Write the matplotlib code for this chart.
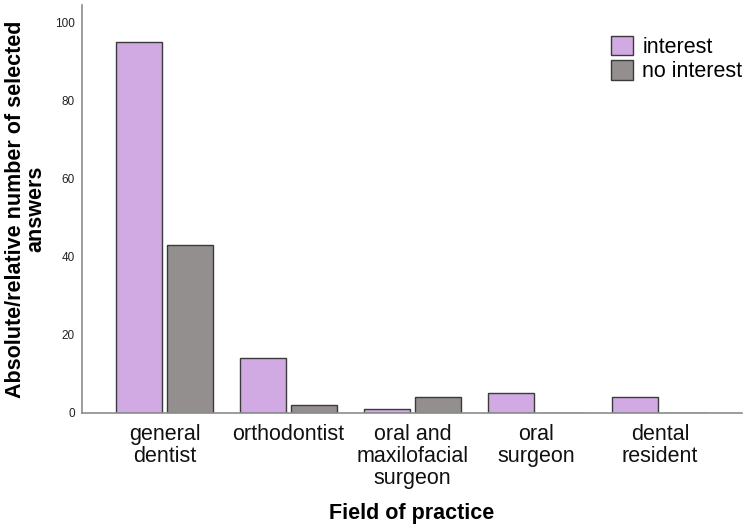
import matplotlib
matplotlib.use("Agg")
import matplotlib.pyplot as plt
import numpy as np

plt.rcParams['font.family'] = ['Liberation Sans', 'DejaVu Sans']

categories = ["general\ndentist", "orthodontist", "oral and\nmaxilofacial\nsurgeon", "oral\nsurgeon", "dental\nresident"]
interest = [95, 14, 1, 5, 4]
no_interest = [43, 2, 4, 0, 0]
series_names = ["interest", "no interest"]
colors = ["#D1AAE3", "#938F8E"]

fig = plt.figure(figsize=(7.44, 5.26), dpi=100)
ax = fig.add_axes([0.110, 0.215, 0.887, 0.775])

x = np.arange(len(categories))
w = 0.372
off = 0.206
ax.bar(x - off, interest, width=w, color=colors[0], edgecolor="#3a3a3a", linewidth=1.0, label=series_names[0])
ax.bar(x + off, no_interest, width=w, color=colors[1], edgecolor="#3a3a3a", linewidth=1.0, label=series_names[1])

ax.set_xlim(-0.67, 4.66)
ax.set_ylim(0, 104.3)
ax.set_yticks([0, 20, 40, 60, 80, 100])
ax.set_xticks(x)
ax.set_xticklabels(categories, fontsize=15.5, linespacing=1.05)
ax.tick_params(axis='y', length=0, labelsize=8.5, pad=5, labelcolor="#222222")
ax.tick_params(axis='x', length=0, pad=8, labelcolor="#111111")

for s in ["top", "right"]:
    ax.spines[s].set_visible(False)
for s in ["left", "bottom"]:
    ax.spines[s].set_color("#8c8c8c")
    ax.spines[s].set_linewidth(1.2)

ax.set_ylabel("Absolute/relative number of selected\nanswers", fontsize=15.5, fontweight="bold", linespacing=1.0)
ax.yaxis.set_label_coords(-0.053, 0.5)
ax.set_xlabel("Field of practice", fontsize=15.5, fontweight="bold")
ax.xaxis.set_label_coords(0.5, -0.222)

leg = ax.legend(loc="upper right", bbox_to_anchor=(1.014, 0.946), frameon=False, fontsize=15.5,
                handlelength=1.0, handleheight=1.0, handletextpad=0.45, labelspacing=0.12, borderaxespad=0.0)

fig.savefig("out.png", dpi=100)
